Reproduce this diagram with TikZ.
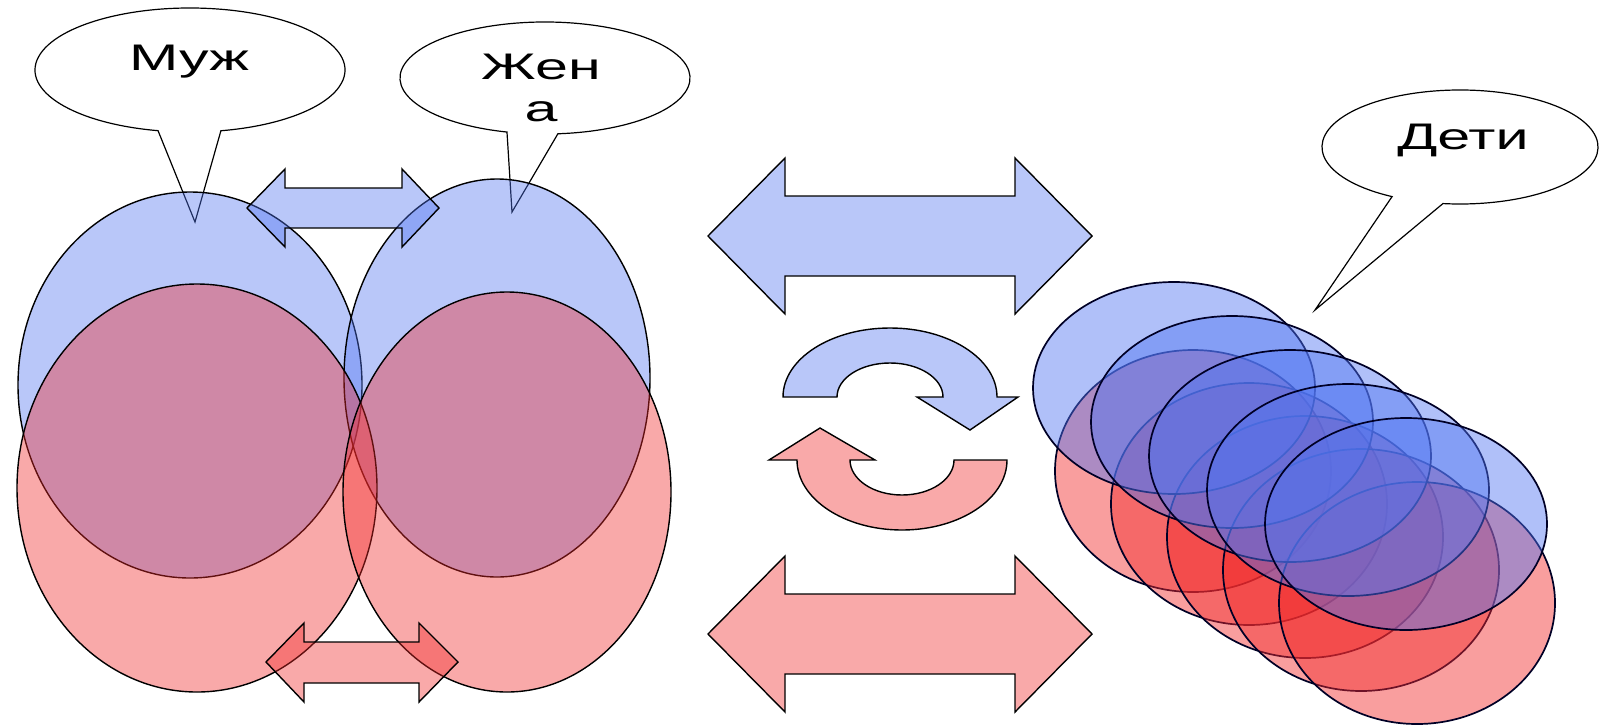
\documentclass[tikz,border=0pt]{standalone}
\usepackage{fontspec}
\setmainfont{Liberation Sans}
\usepackage{graphicx}
\definecolor{bluefill}{RGB}{80,117,242}
\definecolor{redfill}{RGB}{242,42,42}
\begin{document}
\begin{tikzpicture}[x=1pt,y=-1pt,
  outline/.style={draw=black, line width=1.4pt, line join=miter},
  blueshape/.style={outline, fill=bluefill, fill opacity=0.4},
  redshape/.style={outline, fill=redfill, fill opacity=0.4},
  kidshape/.style={line width=1.7pt, draw=black!85!blue},
  bubble/.style={outline, line width=1.2pt, fill=white},
  bubbletext/.style={font=\fontsize{37}{42}\selectfont, inner sep=0pt, anchor=base, text=black}]
\useasboundingbox (0,0) rectangle (1600,726);
\fill[white] (0,0) rectangle (1600,726);

% speech bubbles
\draw[bubble] (190,70) ++(101.9:155 and 62) arc[start angle=101.9, end angle=438.5, x radius=155, y radius=62] -- (195,222) -- cycle;
\draw[bubble] (545,78) ++(105.2:145 and 56) arc[start angle=105.2, end angle=444.9, x radius=145, y radius=56] -- (512,212) -- cycle;
\draw[bubble] (1460,147) ++(119.5:138 and 57) arc[start angle=119.5, end angle=457.1, x radius=138, y radius=57] -- (1315,310) -- cycle;
\node[bubbletext] (muz) at (189,70) {\scalebox{1.6}[1]{Муж}};
\node[bubbletext] (zhena) at (541,79) {\scalebox{1.6}[1]{\begin{tabular}[t]{@{}c@{}}Жен\\а\end{tabular}}};
\node[bubbletext] (deti) at (1463,149) {\scalebox{1.6}[1]{Дети}};

% husband and wife
\draw[blueshape] (190,385) ellipse[x radius=172, y radius=193];
\draw[blueshape] (497,378) ellipse[x radius=153, y radius=199];
\draw[redshape] (197,488) ellipse[x radius=180, y radius=204];
\draw[redshape] (507,492) ellipse[x radius=164, y radius=200];

% small double arrows
\draw[blueshape] (247,208) -- (285,169) -- (285,188) -- (402,188) -- (402,169) -- (439,208) -- (402,247) -- (402,228) -- (285,228) -- (285,247) -- cycle;
\draw[redshape] (266,662) -- (304,623) -- (304,642) -- (419,642) -- (419,623) -- (458,662) -- (419,702) -- (419,683) -- (304,683) -- (304,702) -- cycle;

% big double arrows
\draw[blueshape] (708,236) -- (785,158) -- (785,196) -- (1015,196) -- (1015,158) -- (1092,236) -- (1015,314) -- (1015,276) -- (785,276) -- (785,314) -- cycle;
\draw[redshape] (708,634) -- (785,556) -- (785,594) -- (1015,594) -- (1015,556) -- (1092,634) -- (1015,712) -- (1015,674) -- (785,674) -- (785,712) -- cycle;

% circular arrows
\draw[blueshape] (783,397) arc[start angle=180, end angle=360, x radius=107, y radius=69] -- (1018,397) -- (970,430) -- (917,397) -- (943,397) arc[start angle=360, end angle=180, x radius=53, y radius=34] -- cycle;
\draw[redshape] (1007,460) arc[start angle=0, end angle=180, x radius=105, y radius=70] -- (769,460) -- (820,428) -- (875,460) -- (850,460) arc[start angle=180, end angle=0, x radius=52, y radius=35] -- cycle;

% children
\foreach \i in {0,...,4}
  \draw[redshape, kidshape, fill opacity=0.45] ({1193+56*\i},{471+33*\i}) ellipse[x radius=138, y radius=121];
\foreach \i in {0,...,4}
  \draw[blueshape, kidshape, fill opacity=0.45] ({1174+58*\i},{388+34*\i}) ellipse[x radius=141, y radius=106];
\end{tikzpicture}
\end{document}
